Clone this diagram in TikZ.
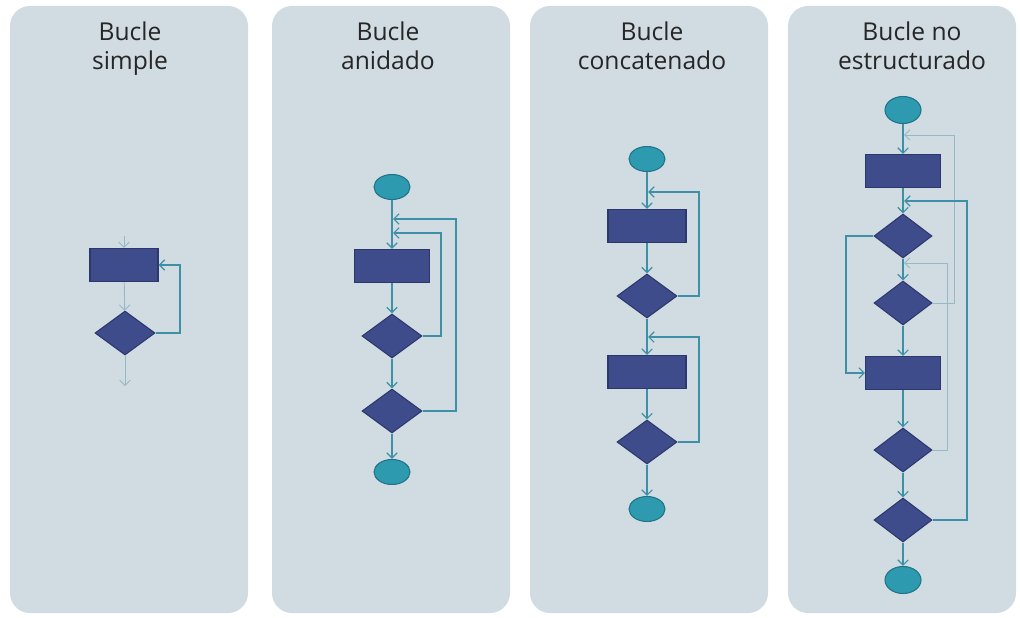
\documentclass[tikz,border=0pt]{standalone}
\usepackage{fontspec}
\setmainfont{Open Sans}
\usepackage{xcolor}
\usetikzlibrary{positioning,shapes.geometric,arrows.meta}

\definecolor{panelbg}{HTML}{D0DBE2}
\definecolor{boxblue}{HTML}{3F4C8C}
\definecolor{boxedge}{HTML}{2C376C}
\definecolor{termfill}{HTML}{2D9AAF}
\definecolor{termedge}{HTML}{1F7487}
\definecolor{flowline}{HTML}{3E90A7}
\definecolor{faintline}{HTML}{97B8C4}

\tikzset{
  panel/.style={fill=panelbg, draw=none, rounded corners=0.4cm},
  title/.style={font=\fontsize{14}{17}\selectfont, text=black!85, align=center, anchor=north, inner sep=0pt},
  process/.style={draw=boxedge, fill=boxblue, minimum width=1.5cm, minimum height=0.66cm, inner sep=0pt, line width=0.6pt},
  decision/.style={diamond, draw=boxedge, fill=boxblue, minimum width=1.2cm, minimum height=0.88cm, inner sep=0pt, line width=0.6pt},
  terminal/.style={ellipse, draw=termedge, fill=termfill, minimum width=0.72cm, minimum height=0.5cm, inner sep=0pt, line width=0.6pt},
  flow/.style={draw=flowline, line width=0.7pt, -{Straight Barb[length=3pt,width=6pt]}},
  faint/.style={draw=faintline, line width=0.5pt, -{Straight Barb[length=3pt,width=6pt]}}
}

\begin{document}
\begin{tikzpicture}[x=0.02cm, y=-0.02cm]
  \useasboundingbox (0,0) rectangle (1020,618);

  % panels
  \fill[panel] (10,6) rectangle (248,613);
  \fill[panel] (272,6) rectangle (510,613);
  \fill[panel] (530,6) rectangle (768,613);
  \fill[panel] (788,6) rectangle (1016,613);

  % titles
  \node[title] (t1) at (130,21) {Bucle\\simple};
  \node[title] (t2) at (388,21) {Bucle\\anidado};
  \node[title] (t3) at (652,21) {Bucle\\concatenado};
  \node[title] (t4) at (912,21) {Bucle no\\estructurado};

  % simple
  \node[process, minimum width=1.36cm] (p1) at (124,265) {};
  \node[decision] (d1) at (125,333) {};
  \coordinate (in1) at (124,236);
  \coordinate (out1) at (125,386);
  \coordinate (k1) at (180,265);
  \draw[faint] (in1) -- (p1);
  \draw[faint] (p1) -- (d1);
  \draw[faint] (d1) -- (out1);
  \draw[flow] (d1.east) -| (k1) -- (p1.east);

  % anidado
  \node[terminal] (e2a) at (392,187) {};
  \node[process] (p2) at (392,266) {};
  \node[decision] (d2a) at (392,336) {};
  \node[decision] (d2b) at (392,411) {};
  \node[terminal] (e2b) at (392,472) {};
  \foreach \from/\to in {e2a/p2, p2/d2a, d2a/d2b, d2b/e2b}
    \draw[flow] (\from) -- (\to);
  \coordinate (k2a) at (441,233);
  \coordinate (j2a) at (393,233);
  \coordinate (k2b) at (456,219);
  \coordinate (j2b) at (393,219);
  \draw[flow] (d2a.east) -| (k2a) -- (j2a);
  \draw[flow] (d2b.east) -| (k2b) -- (j2b);

  % concatenado
  \node[terminal] (e3a) at (647,159) {};
  \node[process, minimum width=1.56cm] (p3a) at (647,226) {};
  \node[decision] (d3a) at (647,296) {};
  \node[process, minimum width=1.56cm] (p3b) at (647,372) {};
  \node[decision] (d3b) at (647,442) {};
  \node[terminal] (e3b) at (647,509) {};
  \foreach \from/\to in {e3a/p3a, p3a/d3a, d3a/p3b, p3b/d3b, d3b/e3b}
    \draw[flow] (\from) -- (\to);
  \coordinate (k3a) at (699,192);
  \coordinate (j3a) at (648,192);
  \coordinate (k3b) at (699,337);
  \coordinate (j3b) at (648,337);
  \draw[flow] (d3a.east) -| (k3a) -- (j3a);
  \draw[flow] (d3b.east) -| (k3b) -- (j3b);

  % no estructurado
  \node[terminal, minimum height=0.54cm] (e4a) at (903,110) {};
  \node[process] (p4a) at (903,171) {};
  \node[decision, minimum width=1.16cm] (d4a) at (903,236) {};
  \node[decision, minimum width=1.16cm] (d4b) at (903,303) {};
  \node[process] (p4b) at (903,373) {};
  \node[decision, minimum width=1.16cm] (d4c) at (903,450) {};
  \node[decision, minimum width=1.16cm] (d4d) at (903,520) {};
  \node[terminal, minimum height=0.54cm] (e4b) at (903,580) {};
  \foreach \from/\to in {e4a/p4a, p4a/d4a, d4a/d4b, d4b/p4b, p4b/d4c, d4c/d4d, d4d/e4b}
    \draw[flow] (\from) -- (\to);
  \coordinate (k4a) at (846,373);
  \coordinate (k4b) at (954,135);
  \coordinate (j4b) at (904,135);
  \coordinate (k4c) at (947,263);
  \coordinate (j4c) at (904,263);
  \coordinate (k4d) at (967,201);
  \coordinate (j4d) at (904,201);
  \draw[flow] (d4a.west) -| (k4a) -- (p4b.west);
  \draw[faint] (d4b.east) -| (k4b) -- (j4b);
  \draw[faint] (d4c.east) -| (k4c) -- (j4c);
  \draw[flow] (d4d.east) -| (k4d) -- (j4d);
\end{tikzpicture}
\end{document}
